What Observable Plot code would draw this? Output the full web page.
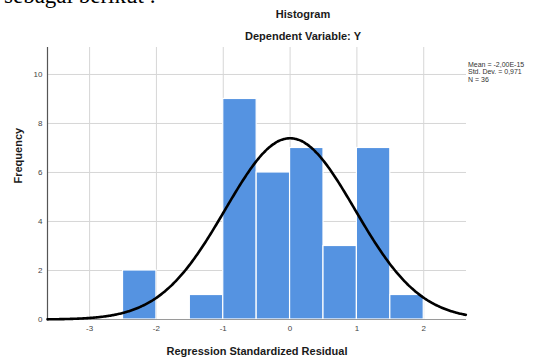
<!DOCTYPE html>
<html>
<head>
<meta charset="utf-8">
<script src="https://cdn.jsdelivr.net/npm/d3@7"></script>
<script src="https://cdn.jsdelivr.net/npm/@observablehq/plot@0.6"></script>
<style>
  html, body { margin: 0; padding: 0; background: #fff; }
  #wrap { position: relative; width: 535px; height: 358px; overflow: hidden; font-family: "Liberation Sans", Arial, sans-serif; }
  .abs { position: absolute; white-space: nowrap; }
  #intro { left: 4px; top: -17px; font-family: "Liberation Serif", "Times New Roman", serif; font-size: 23px; color: #000; }
  .title { font-weight: bold; font-size: 11px; color: #1a1a1a; transform: translateX(-50%); }
  #legend { left: 468px; top: 61px; font-size: 7px; line-height: 7.4px; color: #333; }
  #chart { position: absolute; left: 0; top: 0; }
</style>
</head>
<body>
<div id="wrap">
  <div id="chart"></div>
  <div class="abs" id="intro">sebagai berikut :</div>
  <div class="abs title" style="left:303px; top:8px;">Histogram</div>
  <div class="abs title" style="left:303px; top:30px;">Dependent Variable: Y</div>
  <div class="abs" id="legend"></div>
</div>
<script>
// Histogram bins (lower edge, upper edge) and frequencies
const binLo = [-2.5, -1.5, -1.0, -0.5, 0.0, 0.5, 1.0, 1.5];
const binHi = [-2.0, -1.0, -0.5, 0.0, 0.5, 1.0, 1.5, 2.0];
const counts = [2, 1, 9, 6, 7, 3, 7, 1];
const xTicks = [-3, -2, -1, 0, 1, 2];
const yTicks = [0, 2, 4, 6, 8, 10];
const legendLines = ["Mean = -2,00E-15", "Std. Dev. = 0,971", "N = 36"];
const mean = 0;
const sd = 0.971;
const n = 36;
const binWidth = 0.5;

const bars = binLo.map((lo, i) => ({ lo, hi: binHi[i], count: counts[i] }));

// normal curve fitted from the displayed statistics
const xDomain = [-3.63, 2.64];
const curve = d3.range(xDomain[0], xDomain[1] + 0.001, 0.02).map(x => ({
  x,
  y: n * binWidth * Math.exp(-0.5 * ((x - mean) / sd) ** 2) / (sd * Math.sqrt(2 * Math.PI))
}));

const fmt = d => String(d);

const chart = Plot.plot({
  width: 535,
  height: 358,
  marginLeft: 47,
  marginRight: 69,
  marginTop: 47,
  marginBottom: 39,
  style: { fontFamily: "Liberation Sans, Arial, sans-serif", background: "transparent", overflow: "visible" },
  x: { domain: xDomain, ticks: xTicks, tickSize: 0, tickPadding: 6, label: null },
  y: { domain: [0, 11.1], ticks: yTicks, tickSize: 0, tickPadding: 5, label: null },
  marks: [
    Plot.gridX(xTicks, { stroke: "#d6d6d6", strokeOpacity: 1, strokeWidth: 1 }),
    Plot.gridY(yTicks.filter(d => d > 0), { stroke: "#d6d6d6", strokeOpacity: 1, strokeWidth: 1 }),
    Plot.rectY(bars, { x1: "lo", x2: "hi", y: "count", fill: "#5593e1", stroke: "#fff", strokeWidth: 1.2 }),
    Plot.ruleY([0], { stroke: "#9a9a9a", strokeWidth: 1 }),
    Plot.ruleX([xDomain[0]], { stroke: "#555", strokeWidth: 1.2 }),
    Plot.line(curve, { x: "x", y: "y", stroke: "#000", strokeWidth: 2.6, curve: "natural" }),
    Plot.axisX(xTicks, { tickSize: 0, tickPadding: 6, fontSize: 8, fill: "#444", label: null, tickFormat: fmt }),
    Plot.axisY(yTicks, { tickSize: 0, tickPadding: 5, fontSize: 8, fill: "#444", label: null, tickFormat: fmt }),
    Plot.text(["Regression Standardized Residual"], { frameAnchor: "bottom", dy: 35, fontSize: 11, fontWeight: "bold", fill: "#1a1a1a" }),
    Plot.text(["Frequency"], { frameAnchor: "left", dx: -29, rotate: -90, fontSize: 11, fontWeight: "bold", fill: "#1a1a1a" })
  ]
});
document.getElementById("chart").appendChild(chart);
document.getElementById("legend").innerHTML = legendLines.map(s => `<div>${s}</div>`).join("");
</script>
</body>
</html>
